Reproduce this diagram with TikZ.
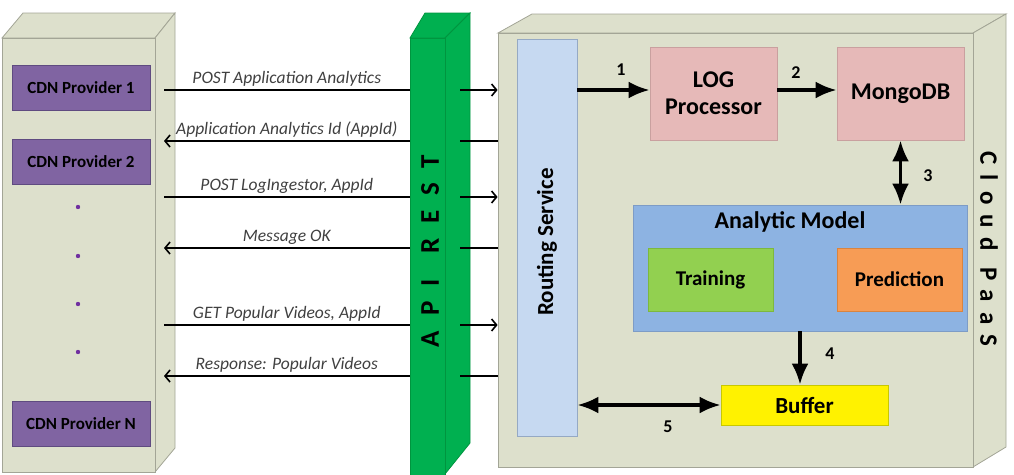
\documentclass[tikz,border=0pt]{standalone}
\usepackage{fontspec}
\setmainfont{Carlito}
\newfontfamily\widefont[LetterSpace=40]{Carlito}
\newfontfamily\widerfont[LetterSpace=55]{Carlito}
\usetikzlibrary{positioning,arrows.meta}

\definecolor{cubeface}{HTML}{DDE0CC}
\definecolor{cubeedge}{HTML}{A3A596}
\definecolor{cdnfill}{HTML}{8064A2}
\definecolor{cdnedge}{HTML}{5F4B80}
\definecolor{dotcol}{HTML}{7030A0}
\definecolor{apifill}{HTML}{00B050}
\definecolor{apiedge}{HTML}{00953F}
\definecolor{routefill}{HTML}{C6D9F1}
\definecolor{routeedge}{HTML}{95A9C4}
\definecolor{logfill}{HTML}{E6B9B8}
\definecolor{logedge}{HTML}{C9A09F}
\definecolor{modelfill}{HTML}{8DB3E2}
\definecolor{modeledge}{HTML}{7D9CC6}
\definecolor{trainfill}{HTML}{92D050}
\definecolor{trainedge}{HTML}{7DB83E}
\definecolor{predfill}{HTML}{F79C55}
\definecolor{prededge}{HTML}{D9843F}
\definecolor{bufedge}{HTML}{C8C800}
\definecolor{labelgray}{HTML}{404040}

\begin{document}
\begin{tikzpicture}[x=1pt,y=-1pt,
  face/.style={draw=cubeedge,fill=cubeface,line width=0.8pt},
  apiface/.style={draw=apiedge,fill=apifill,line width=0.8pt},
  cdnbox/.style={draw=cdnedge,fill=cdnfill,line width=0.8pt,minimum width=138pt,minimum height=45pt,inner sep=0pt,font=\bfseries\fontsize{17}{17}\selectfont},
  unit/.style={draw=logedge,fill=logfill,line width=0.8pt,minimum width=127pt,minimum height=93pt,inner sep=0pt,align=center,font=\bfseries\fontsize{24}{27}\selectfont},
  part/.style={line width=0.8pt,minimum width=125pt,minimum height=63pt,inner sep=0pt,font=\bfseries\fontsize{21}{21}\selectfont},
  msg/.style={line width=1.6pt},
  tip/.style={-{Straight Barb[length=5pt,width=12pt]}},
  msglabel/.style={font=\itshape\fontsize{17.5}{18}\selectfont,text=labelgray,inner sep=3pt},
  flow/.style={line width=3.5pt,-{Latex[length=21pt,width=17pt]}},
  dflow/.style={line width=3.5pt,{Latex[length=21pt,width=17pt]}-{Latex[length=21pt,width=17pt]}},
  numlabel/.style={font=\bfseries\fontsize{18}{18}\selectfont}
]
  \useasboundingbox (0,0) rectangle (1014,474);

  % CDN providers
  \draw[face] (2,38) -- (23,13) -- (175,13) -- (155,38) -- cycle;
  \draw[face] (155,38) -- (175,13) -- (175,448) -- (155,472) -- cycle;
  \node[face,minimum width=153pt,minimum height=434pt,inner sep=0pt] (cdn) at (78.5,255) {};
  \node[cdnbox] (cdn1) at (81,87.5) {CDN Provider 1};
  \node[cdnbox] (cdn2) at (81,161.5) {CDN Provider 2};
  \node[cdnbox] (cdnN) at (81,424) {CDN Provider N};
  \foreach \y in {207,256,304,352}
    \fill[dotcol] (78,\y) circle (2.2pt);

  % API REST
  \draw[apiface] (410,38) -- (425,13) -- (470,13) -- (445,38) -- cycle;
  \draw[apiface] (445,38) -- (470,13) -- (470,443) -- (445,474) -- cycle;
  \node[apiface,minimum width=35pt,minimum height=440pt,inner sep=0pt] (api) at (427.5,258) {};
  \node[rotate=90,font=\widerfont\bfseries\fontsize{27}{27}\selectfont] (apitext) at (430,251) {API\hspace{5pt} REST};

  % Cloud PaaS
  \draw[face] (498,33) -- (532,14) -- (1006,14) -- (973,33) -- cycle;
  \draw[face] (973,33) -- (1006,14) -- (1006,447) -- (973,467) -- cycle;
  \node[face,minimum width=475pt,minimum height=434pt,inner sep=0pt] (cloud) at (735.5,250) {};
  \node[rotate=-90,font=\widefont\bfseries\fontsize{25}{25}\selectfont] (paas) at (989,249) {Cloud PaaS};

  \node[draw=routeedge,fill=routefill,line width=0.8pt,minimum width=60pt,minimum height=397pt,inner sep=0pt] (routing) at (547,237.5) {};
  \node[rotate=90,font=\bfseries\fontsize{23}{23}\selectfont] (routingtext) at (547,242) {Routing Service};

  \node[unit] (logp) at (713.5,93.5) {LOG\\Processor};
  \node[unit] (mongo) at (900.5,93.5) {MongoDB};

  \node[draw=modeledge,fill=modelfill,line width=0.8pt,minimum width=334pt,minimum height=126pt,inner sep=0pt] (analytic) at (800,268) {};
  \node[font=\bfseries\fontsize{24}{24}\selectfont] (analytictitle) at (790,222) {Analytic Model};
  \node[part,draw=trainedge,fill=trainfill] (training) at (710.5,279.5) {Training};
  \node[part,draw=prededge,fill=predfill] (prediction) at (899.5,279.5) {Prediction};

  \node[draw=bufedge,fill=yellow,line width=0.8pt,minimum width=167pt,minimum height=40pt,inner sep=0pt,font=\bfseries\fontsize{23}{23}\selectfont] (buffer) at (804.5,405) {Buffer};

  % messages
  \coordinate (cdnout) at (164,0);
  \coordinate (apiout) at (460,0);
  \foreach \y/\txt in {90/POST Application Analytics, 197/{POST LogIngestor, AppId}, 325/{GET Popular Videos, AppId}}{
    \draw[msg] (cdnout |- 0,\y) -- (api.west |- 0,\y) node[msglabel,midway,above] {\txt};
    \draw[msg,tip] (apiout |- 0,\y) -- (cloud.west |- 0,\y);
  }
  \foreach \y/\txt in {141/Application Analytics Id (AppId), 248/Message OK, 376/Response: Popular Videos}{
    \draw[msg,tip] (api.west |- 0,\y) -- (cdnout |- 0,\y) node[msglabel,midway,above] {\txt};
    \draw[msg] (apiout |- 0,\y) -- (cloud.west |- 0,\y);
  }

  % flows inside the cloud
  \draw[flow] (routing.east |- 0,90) -- (logp.west |- 0,90);
  \draw[flow] (logp.east |- 0,90) -- (mongo.west |- 0,90);
  \draw[dflow] (mongo.south) -- (mongo.south |- analytic.north);
  \draw[flow] (analytic.south -| 800,0) -- (buffer.north -| 800,0);
  \draw[dflow] (routing.east |- buffer.west) -- (buffer.west);
  \node[numlabel] (n1) at (621,70) {1};
  \node[numlabel] (n2) at (796,73) {2};
  \node[numlabel] (n3) at (928,176) {3};
  \node[numlabel] (n4) at (830,354) {4};
  \node[numlabel] (n5) at (668,427) {5};
\end{tikzpicture}
\end{document}
